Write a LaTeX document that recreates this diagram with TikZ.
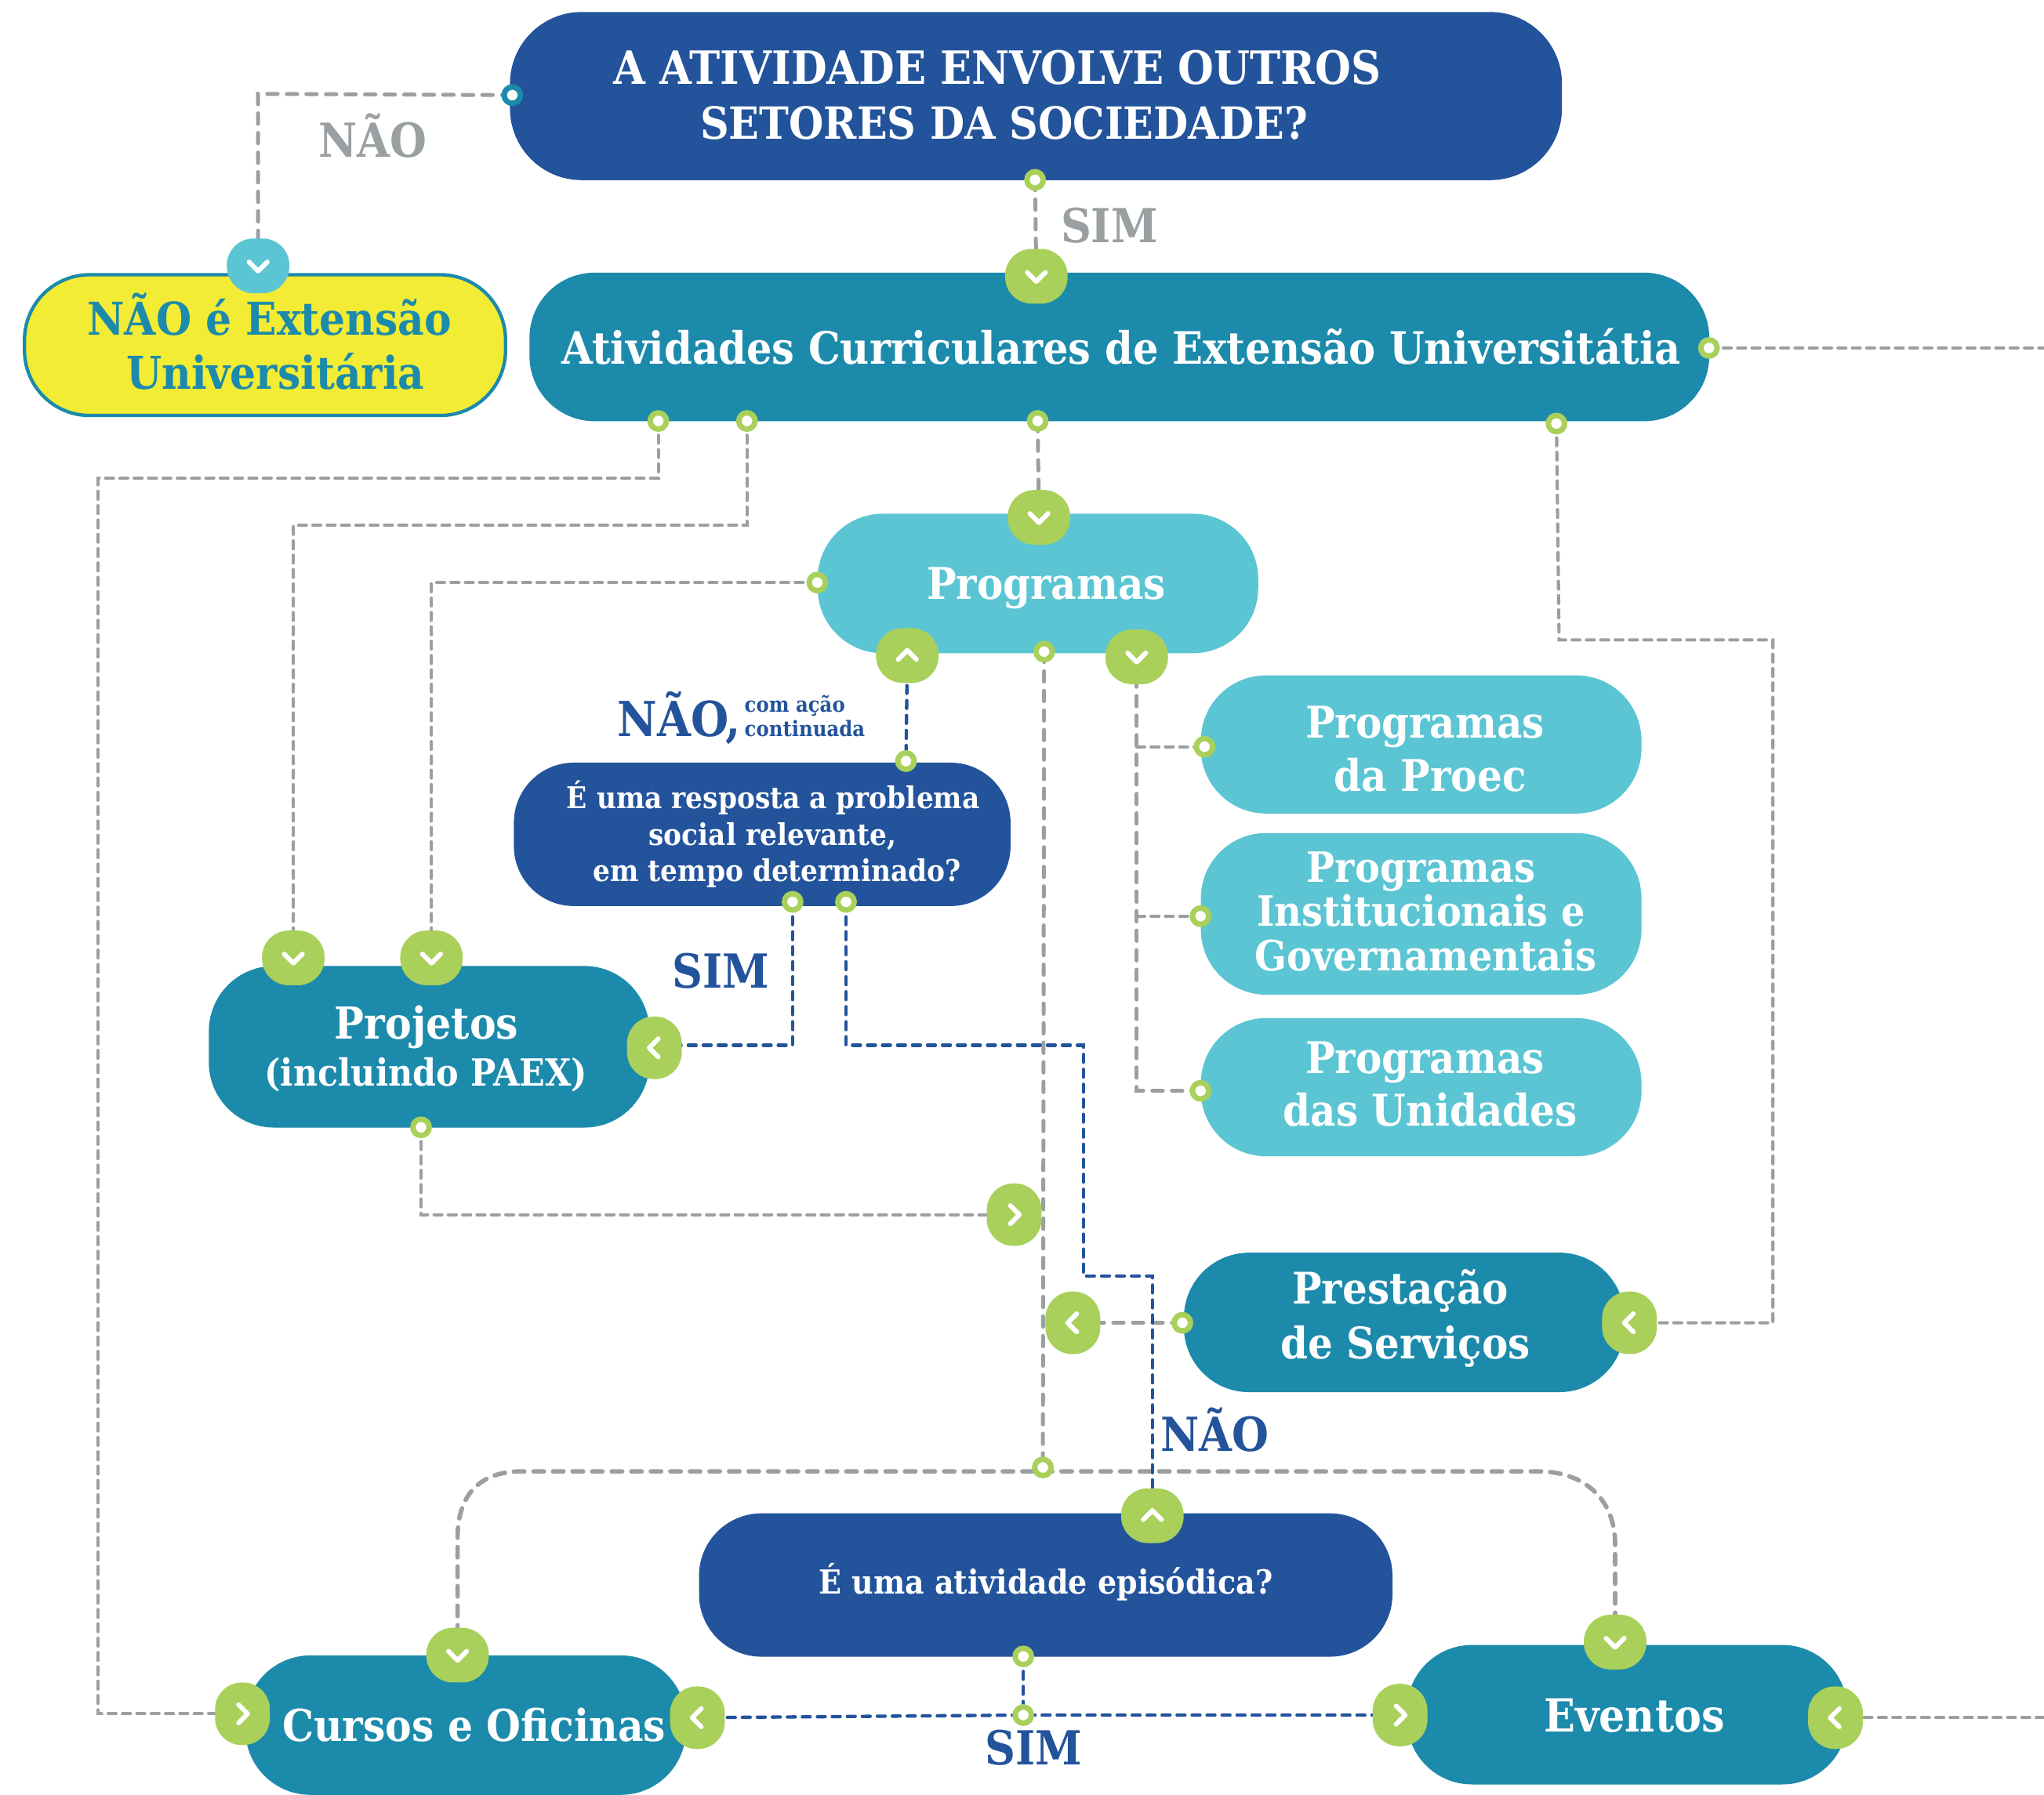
\documentclass[tikz,border=0pt]{standalone}
\usepackage{fontspec}
\setmainfont{DejaVu Serif Condensed}[BoldFont=* Bold]
\usetikzlibrary{backgrounds}
\definecolor{navy}{HTML}{23539B}
\definecolor{teal}{HTML}{1C8AAB}
\definecolor{aqua}{HTML}{5BC5D3}
\definecolor{lime}{HTML}{A9D05A}
\definecolor{lemon}{HTML}{F2EC35}
\definecolor{ash}{HTML}{9A9FA2}
\newcommand\fs[2]{\fontsize{#1}{#2}\selectfont\bfseries}
% text block placed dy above the centre of its node
\newcommand\tx[2]{\raisebox{\dimexpr #1pt-10pt}[0pt][0pt]{\begin{tabular}[c]{@{}c@{}}#2\end{tabular}}}
\tikzset{
 box/.style={rounded corners=#1,inner sep=0pt,text=white,anchor=north west},
 box/.default=50pt,
 pod/.style={rounded corners=20.5pt,inner sep=0pt,minimum width=48pt,minimum height=42pt},
 podside/.style={rounded corners=20.5pt,inner sep=0pt,minimum width=42pt,minimum height=48pt},
 ring/.style={circle,fill=white,draw=lime,line width=4.2pt,minimum size=12.5pt,inner sep=0pt},
 chev/.style={draw=white,line width=3.6pt,line cap=round,line join=round},
 gthin/.style={draw=ash,line width=2.5pt,line cap=round,dash pattern=on 6pt off 5pt},
 gthick/.style={draw=ash,line width=3pt,line cap=round,dash pattern=on 8pt off 7pt},
 gcurve/.style={draw=ash,line width=3.4pt,line cap=round,dash pattern=on 8pt off 7pt},
 bline/.style={draw=navy,line width=2.6pt,line cap=round,dash pattern=on 6pt off 5.5pt},
 lab/.style={inner sep=0pt,font=\fs{36}{40}},
}
\def\chd{(-7,-3) -- (0,4) -- (7,-3)}
\def\chu{(-7,3) -- (0,-4) -- (7,3)}
\def\chl{(3,-7) -- (-4,0) -- (3,7)}
\def\chr{(-3,-7) -- (4,0) -- (-3,7)}
% name, x, y, chevron, fill, style
\newcommand\podn[6]{\node[#6,fill=#5] (#1) at (#2,#3) {};\draw[chev,shift={(#1.center)}] #4;}
\newcommand\ringn[3]{\node[ring] (#1) at (#2,#3) {};}
\newcommand\bx[8]{% name,x1,y1,x2,y2,options,font,text
 \node[box,fill=#6,minimum width=#4pt-#2pt,minimum height=#5pt-#3pt,font=#7] (#1) at (#2,#3) {#8};}
\begin{document}
\begin{tikzpicture}[x=1pt,y=-1pt]
\useasboundingbox (0,0) rectangle (1568,1377);
\begin{scope}[on background layer]
\fill[white] (0,0) rectangle (1568,1377);
\end{scope}
% boxes
\bx{top}{391}{9}{1198}{138}{navy,box=55pt}{\fs{35.2}{42}}{\tx{0}{A ATIVIDADE ENVOLVE OUTROS\hspace*{59pt}\\\fs{34}{42}SETORES DA SOCIEDADE?\hspace*{49pt}}}
\node[box,fill=lemon,draw=teal,line width=2.6pt,text=teal,minimum width=369pt,minimum height=108pt,font=\fs{34.7}{42}] (nao) at (17.5,209.5) {\tx{0.5}{\hspace*{7pt}NÃO é Extensão\\\hspace*{16pt}Universitária}};
\bx{ativ}{406}{209}{1311}{323}{teal}{\fs{34.2}{42}}{\tx{-1}{\hspace*{3pt}Atividades Curriculares de Extensão Universitátia}}
\bx{prog}{627}{394}{965}{501}{aqua}{\fs{33.5}{42}}{\tx{0}{\hspace*{13pt}Programas}}
\bx{proec}{921}{518}{1259}{624}{aqua}{\fs{33.5}{41}}{\tx{-3.5}{\hspace*{6pt}Programas\\\hspace*{14pt}da Proec}}
\bx{inst}{921}{639}{1259}{763}{aqua}{\fs{32}{32.5}}{\tx{1}{Programas\\Institucionais e\\\hspace*{7pt}Governamentais}}
\bx{unid}{921}{781}{1259}{887}{aqua}{\fs{33.5}{40}}{\tx{2}{\hspace*{6pt}Programas\\\hspace*{14pt}das Unidades}}
\bx{quest}{394}{585}{775}{695}{navy,box=46pt}{\fs{23}{28}}{\tx{2}{\hspace*{17pt}É uma resposta a problema\\\hspace*{16pt}social relevante,\\\hspace*{23pt}em tempo determinado?}}
\bx{proj}{160}{741}{498}{865}{teal}{\fs{33.8}{36}}{\tx{-1}{Projetos\hspace*{4pt}\\{\fs{28.7}{36}(incluindo PAEX)\hspace*{5pt}}}}
\bx{prest}{908}{961}{1246}{1068}{teal}{\fs{33.4}{42}}{\tx{5.5}{Prestação\hspace*{6pt}\\\hspace*{2pt}de Serviços}}
\bx{epi}{536}{1161}{1068}{1271}{navy,box=48pt}{\fs{25.4}{30}}{\tx{4}{É uma atividade episódica?}}
\bx{curs}{188}{1270}{526}{1377}{teal}{\fs{33.7}{42}}{\tx{0}{\hspace*{13pt}Cursos e Oficinas}}
\bx{even}{1079}{1262}{1417}{1369}{teal}{\fs{35}{42}}{\tx{-1}{\hspace*{11pt}Eventos}}
% pods
\podn{p1}{198}{204}{\chd}{aqua}{pod}
\podn{p2}{795}{212}{\chd}{lime}{pod}
\podn{p3}{797}{397}{\chd}{lime}{pod}
\podn{p4}{696}{503}{\chu}{lime}{pod}
\podn{p5}{872}{504}{\chd}{lime}{pod}
\podn{p6}{225}{735}{\chd}{lime}{pod}
\podn{p7}{331}{735}{\chd}{lime}{pod}
\podn{p8}{502}{804}{\chl}{lime}{podside}
\podn{p9}{778}{932}{\chr}{lime}{podside}
\podn{p10}{823}{1015}{\chl}{lime}{podside}
\podn{p11}{1250}{1015}{\chl}{lime}{podside}
\podn{p12}{884}{1163}{\chu}{lime}{pod}
\podn{p13}{351}{1270}{\chd}{lime}{pod}
\podn{p14}{1239}{1260}{\chd}{lime}{pod}
\podn{p15}{186}{1315}{\chr}{lime}{podside}
\podn{p16}{535}{1318}{\chl}{lime}{podside}
\podn{p17}{1074}{1316}{\chr}{lime}{podside}
\podn{p18}{1408}{1318}{\chl}{lime}{podside}
% rings
\node[ring,draw=teal] (r0) at (393,73) {};
\ringn{r1}{794}{138}
\ringn{r2}{505}{323}
\ringn{r3}{573}{323}
\ringn{r4}{796}{323}
\ringn{r5}{1194}{325}
\ringn{r6}{1311}{267}
\ringn{r7}{627}{447}
\ringn{r8}{801}{500}
\ringn{r9}{695}{584}
\ringn{r10}{608}{692}
\ringn{r11}{649}{692}
\ringn{r12}{924}{573}
\ringn{r13}{921}{703}
\ringn{r14}{921}{837}
\ringn{r15}{323}{865}
\ringn{r16}{907}{1015}
\ringn{r17}{800}{1126}
\ringn{r18}{785}{1271}
\ringn{r19}{785}{1316}
% labels
\node[lab,text=ash] (l1) at (286,104) {NÃO};
\node[lab,text=ash] (l2) at (851,173) {SIM};
\node[lab,text=navy,font=\fs{37}{40}] (l3) at (521,551) {NÃO,};
\node[inner sep=0pt,text=navy,align=left,anchor=west,font=\fs{16.3}{19}] (l4) at (571,549.5) {com ação\\continuada};
\node[lab,text=navy] (l5) at (553,745) {SIM};
\node[lab,text=navy] (l6) at (932,1097) {NÃO};
\node[lab,text=navy] (l7) at (793,1341) {SIM};
% way points
\coordinate (a0) at (393,72);
\coordinate (a1) at (198,72);
\coordinate (e1) at (1568,267);
\coordinate (a2) at (505,367);
\coordinate (a3) at (75,367);
\coordinate (a4) at (75,1315);
\coordinate (b1) at (573,403);
\coordinate (b2) at (225,403);
\coordinate (c1) at (1196,491);
\coordinate (c2) at (1360,491);
\coordinate (c3) at (1360,1015);
\coordinate (d1) at (331,447);
\coordinate (f1) at (872,573);
\coordinate (f2) at (872,703);
\coordinate (f3) at (872,837);
\coordinate (g1) at (323,932);
\coordinate (h1) at (351,1180);
\coordinate (h2) at (400,1129);
\coordinate (h3) at (1180,1129);
\coordinate (h4) at (1239,1185);
\coordinate (e2) at (1568,1318);
\coordinate (m1) at (608,802);
\coordinate (n1) at (649,802);
\coordinate (n2) at (831,802);
\coordinate (n3) at (831,979);
\coordinate (n4) at (884,979);
\begin{scope}[on background layer]
\draw[gthick] (r0.center) -- (a1) -- (p1.center);
\draw[gthick] (r1.center) -- (p2.center);
\draw[gthin] (r6.center) -- (e1);
\draw[gthin] (r2.center) -- (a2) -- (a3) -- (a4) -- (p15.center);
\draw[gthin] (r3.center) -- (b1) -- (b2) -- (p6.center);
\draw[gthick] (r4.center) -- (p3.center);
\draw[gthin] (r5.center) -- (c1) -- (c2) -- (c3) -- (p11.center);
\draw[gthin] (r7.center) -- (d1) -- (p7.center);
\draw[gthick] (r8.center) -- (r17.center);
\draw[gthick] (p5.center) -- (f3) -- (r14.center);
\draw[gthin] (f1) -- (r12.center);
\draw[gthin] (f2) -- (r13.center);
\draw[gthin] (r15.center) -- (g1) -- (p9.center);
\draw[gthick] (r16.center) -- (p10.center);
\draw[gcurve] (p13.center) -- (h1) .. controls (351,1145) and (370,1129) .. (h2) -- (h3) .. controls (1215,1129) and (1239,1150) .. (h4) -- (p14.center);
\draw[gthin] (p18.center) -- (e2);
\draw[bline] (p4.center) -- (r9.center);
\draw[bline] (r10.center) -- (m1) -- (p8.center |- m1);
\draw[bline] (r11.center) -- (n1) -- (n2) -- (n3) -- (n4) -- (p12.center);
\draw[bline] (r18.center) -- (r19.center);
\draw[bline] (p16.center) -- (r19.center) -- (p17.center);
\end{scope}
\end{tikzpicture}
\end{document}
